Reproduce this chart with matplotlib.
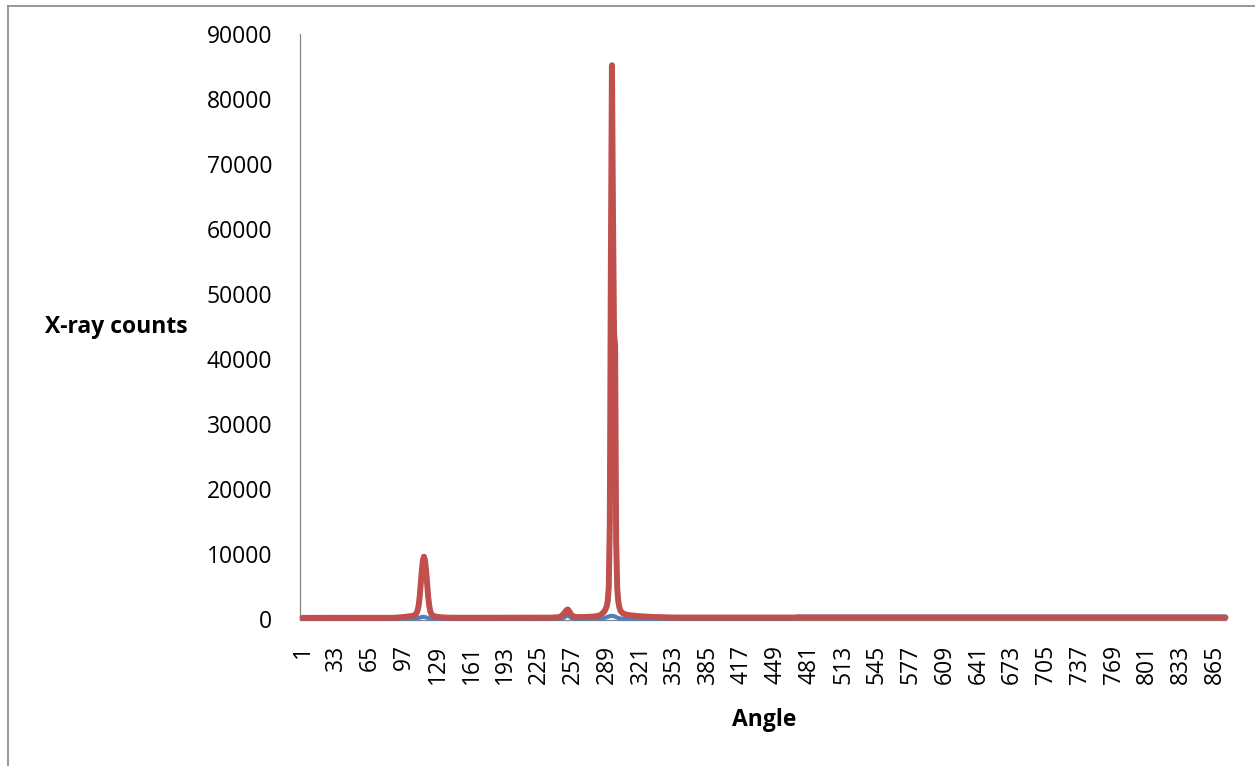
import matplotlib
matplotlib.use("Agg")
import matplotlib.pyplot as plt
from matplotlib.lines import Line2D

# ---------------- data ----------------
N_ANGLES = 875
angles = list(range(1, N_ANGLES + 1))
tick_angles = list(range(1, N_ANGLES + 1, 32))          # 1, 33, ... 865
tick_labels = [str(a) for a in tick_angles]
y_ticks = list(range(0, 90001, 10000))

# red series (X-ray counts), written as flat stretches and peak regions
red_flat_start = 250          # angles 1-85
red_peak1 = [260, 265, 270, 280, 290, 300, 310, 320, 335, 350,       # 86-95
             365, 380, 400, 420, 440, 460, 480, 500, 520, 550,       # 96-105
             600, 680, 800, 1000, 1400, 2200, 3600, 5600, 7600, 9100,  # 106-115
             9650, 9050, 7500, 5400, 3500, 2100, 1250, 850, 650, 560,  # 116-125
             500, 460, 430, 400, 380, 360, 345, 330, 320, 310,       # 126-135
             300, 295, 290, 285, 280]                                # 136-140
red_flat_mid = 270            # angles 141-235
red_peak2 = [275, 280, 290, 300, 310, 320, 335, 350, 380, 430,       # 236-245
             520, 650, 820, 1020, 1230, 1420, 1550, 1400, 1120, 860,  # 246-255
             660, 530, 450, 410, 390, 380, 375, 370, 370, 370]       # 256-265
red_rise = [380, 385, 390, 395, 400, 405, 410, 420, 430, 440,        # 266-275
            450, 460, 480, 500, 530, 570, 620]                       # 276-282
red_peak3 = [700, 800, 950, 1100, 1300, 1600, 2000, 2800, 5000, 15000,  # 283-292
             55000, 85200, 62000, 44000, 42000, 12000, 4800, 2800, 1900, 1400,  # 293-302
             1150, 1000, 900, 830, 780, 740, 700, 670]                # 303-310
red_tail = [650, 630, 610, 590, 575, 560, 545, 530, 515, 500,        # 311-320
            490, 480, 470, 460, 450, 440, 430, 420, 410, 400,        # 321-330
            395, 390, 385, 380, 375, 370, 365, 360, 355, 350,        # 331-340
            345, 340, 335, 330, 325, 320, 318, 316, 314, 312,        # 341-350
            310, 308, 306, 305, 304, 303, 302, 301, 300, 300]        # 351-360
red_flat_end = 300            # angles 361-875

# blue series: low flat level, small bumps under the peaks, a step after ~468
blue_bump1 = [130, 160, 200, 250, 300, 350, 390, 410, 400, 370,
              320, 270, 220, 180, 150, 130, 120]                      # 108-124
blue_bump2 = [150, 220, 320, 450, 550, 600, 550, 440, 320, 210, 140]  # 247-257
blue_bump3 = [140, 180, 230, 290, 350, 410, 470, 520, 550, 560,
              540, 500, 440, 370, 300, 240, 190, 150, 125]            # 285-303
blue_low = 120
blue_high = 450               # from angle 469 onwards
blue_step_angle = 469

# ---------------- assemble series ----------------
red = ([red_flat_start] * 85 + red_peak1 + [red_flat_mid] * 95 + red_peak2
       + red_rise + red_peak3 + red_tail)
red = red + [red_flat_end] * (N_ANGLES - len(red))

blue = ([blue_low] * 107 + blue_bump1)
blue = blue + [blue_low] * (246 - len(blue)) + blue_bump2
blue = blue + [blue_low] * (284 - len(blue)) + blue_bump3
blue = blue + [blue_low] * (blue_step_angle - 1 - len(blue))
blue = blue + [blue_high] * (N_ANGLES - len(blue))

# ---------------- plot ----------------
plt.rcParams['font.family'] = ['Open Sans', 'DejaVu Sans']
W, H = 1255, 766
fig = plt.figure(figsize=(W / 100, H / 100), dpi=100)
fig.patch.set_facecolor('white')

ax_left, ax_right, ax_top, ax_bottom = 300, 1226, 34, 619.5
ax = fig.add_axes([ax_left / W, 1 - ax_bottom / H,
                   (ax_right - ax_left) / W, (ax_bottom - ax_top) / H])

grey = '#868686'
ax.plot(angles, blue, color='#4F81BD', lw=3.0, solid_capstyle='round',
        solid_joinstyle='round', clip_on=False, zorder=3)
ax.plot(angles, red, color='#C0504D', lw=4.3, solid_capstyle='round',
        solid_joinstyle='round', clip_on=False, zorder=4)

ax.set_xlim(-1.4, N_ANGLES + 0.5)
ax.set_ylim(0, 90000)
ax.set_yticks(y_ticks)
ax.set_yticklabels([str(v) for v in y_ticks])
ax.set_xticks(tick_angles)
ax.set_xticklabels(tick_labels, rotation=90)

for s in ('top', 'right'):
    ax.spines[s].set_visible(False)
for s in ('left', 'bottom'):
    ax.spines[s].set_color(grey)
    ax.spines[s].set_linewidth(0.9)
    ax.spines[s].set_zorder(2)

ax.tick_params(axis='y', length=0, pad=20, labelsize=16.5, colors='black')
ax.tick_params(axis='x', length=0, pad=18, labelsize=16.5, colors='black')

fig.text(45 / W, 1 - 327 / H, 'X-ray counts', ha='left', va='center',
         fontsize=16.5, fontweight='bold')
fig.text(764 / W, 1 - 720 / H, 'Angle', ha='center', va='center',
         fontsize=16.5, fontweight='bold')

# outer chart border (left and top visible)
fig.add_artist(Line2D([7.5 / W, 7.5 / W], [0, 1 - 5.5 / H],
                      transform=fig.transFigure, color=grey, lw=1.2))
fig.add_artist(Line2D([7.5 / W, 1], [1 - 5.5 / H, 1 - 5.5 / H],
                      transform=fig.transFigure, color=grey, lw=1.2))

fig.savefig('out.png', dpi=100, facecolor='white')
